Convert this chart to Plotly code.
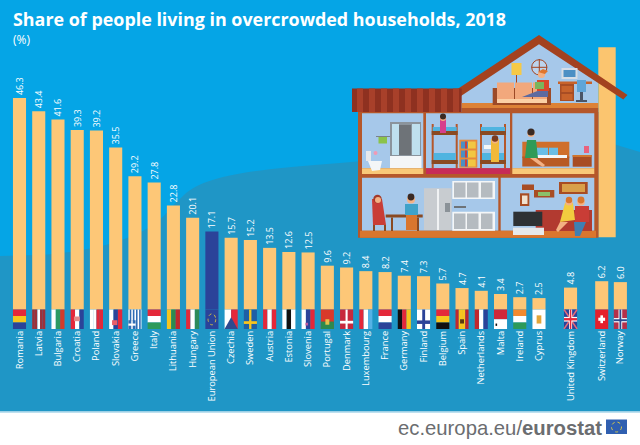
# Share of people living in overcrowded households, 2018 (eurostat infographic)
import plotly.graph_objects as go

W = 640
H = 445

countries = ["Romania", "Latvia", "Bulgaria", "Croatia", "Poland", "Slovakia", "Greece", "Italy",
             "Lithuania", "Hungary", "European Union", "Czechia", "Sweden", "Austria", "Estonia",
             "Slovenia", "Portugal", "Denmark", "Luxembourg", "France", "Germany", "Finland",
             "Belgium", "Spain", "Netherlands", "Malta", "Ireland", "Cyprus",
             "United Kingdom", "Switzerland", "Norway"]
values = [46.3, 43.4, 41.6, 39.3, 39.2, 35.5, 29.2, 27.8, 22.8, 20.1, 17.1, 15.7, 15.2, 13.5, 12.6,
          12.5, 9.6, 9.2, 8.4, 8.2, 7.4, 7.3, 5.7, 4.7, 4.1, 3.4, 2.7, 2.5, 4.8, 6.2, 6.0]

SKY = "#05a5e6"
HILL = "#1f96c6"
BAR = "#fdc777"
EU_BLUE = "#2b4399"

# slots on the axis, UK and Switzerland sit a bit apart from the rest
slots = []
pos = 0.0
for c in countries:
    if c == "United Kingdom":
        pos += 0.64
    if c == "Switzerland":
        pos += 0.62
    slots.append(pos)
    pos += 0.97 if c == "Switzerland" else 1

# pixel helpers for the drawing, everything else goes through the axes
def fx(x):
    return x / W

def fy(y):
    return 1 - y / H

shapes = []

def rect(x0, y0, x1, y1, color, layer="below"):
    shapes.append(dict(type="rect", xref="paper", yref="paper", x0=fx(x0), x1=fx(x1), y0=fy(y0), y1=fy(y1),
                       fillcolor=color, line_width=0, layer=layer))

def poly(pts, color, layer="below"):
    path = "M " + " L ".join(f"{fx(a):.5f} {fy(b):.5f}" for a, b in pts) + " Z"
    shapes.append(dict(type="path", xref="paper", yref="paper", path=path, fillcolor=color, line_width=0, layer=layer))

def dot(cx, cy, r, color, layer="below", line=None):
    shapes.append(dict(type="circle", xref="paper", yref="paper", x0=fx(cx - r), x1=fx(cx + r),
                       y0=fy(cy + r), y1=fy(cy - r), fillcolor=color,
                       line=dict(color=line or color, width=1 if line else 0), layer=layer))

# background
rect(0, 0, W, 412, SKY)
hill = ("M 0 256 L 40 255 C 80 252 120 245 150 227 C 165 218 172 205 182 197 C 200 178 240 170 340 163 "
        "L 600 140 L 640 152 L 640 412 L 0 412 Z")
toks = hill.split()
out = []
i = 0
while i < len(toks):
    if toks[i] in "MLCZ":
        out.append(toks[i])
        i += 1
    else:
        out.append(f"{fx(float(toks[i])):.5f} {fy(float(toks[i + 1])):.5f}")
        i += 2
shapes.append(dict(type="path", xref="paper", yref="paper", path=" ".join(out), fillcolor=HILL, line_width=0, layer="below"))
rect(0, 411.5, W, 445, "#ffffff")
rect(0, 411.5, W, 412.7, "#a9d6ea")

# house: shell
BROWN = "#b5572a"
ROOM = "#a6c8ea"
rect(598.3, 47.3, 615.7, 237.3, "#fbc56f")
rect(358, 112, 598.5, 237.7, BROWN)
poly([(461, 112), (461, 90), (539, 38), (598, 78), (598, 112)], ROOM)
poly([(456, 90), (539, 35), (627.5, 95), (623.3, 99.5), (539, 44.3), (461, 96)], "#a3421f")
rect(352, 88.5, 461.7, 112, "#8e3120")
for k in range(9):
    rect(357 + 12 * k, 88.5, 363 + 12 * k, 112, "#a8402a")
rect(461.7, 103, 598.3, 108, "#dd8236")
rect(461.7, 108, 598.3, 112, "#b5572a")

# rooms
rect(362, 113.3, 423.3, 168.3, ROOM)
rect(426, 113.3, 510, 168.3, ROOM)
rect(512.3, 113.3, 594.3, 168.3, ROOM)
rect(362, 168.3, 423.3, 174, "#f9c878")
rect(426, 168.3, 510, 174, "#c72b57")
rect(512.3, 168.3, 594.3, 174, "#f9c878")
rect(362, 177.7, 498.3, 230.7, ROOM)
rect(500.7, 177.7, 594.3, 230.7, ROOM)
rect(360, 230.7, 596, 237.7, "#d9762e")

# attic
dot(539.3, 67.3, 7.6, "#bcd4ee", line="#a3421f")
rect(538.8, 59, 539.8, 75.5, "#a3421f")
rect(531.5, 66.8, 547, 67.8, "#a3421f")
rect(511.5, 63, 521.5, 75, "#f6c945")
rect(516, 75, 517, 88, "#a3421f")
rect(492.7, 88, 551, 105, "#9c4a27")
rect(497, 82.5, 514, 99, "#f2a87c")
rect(515, 82.5, 532, 99, "#f2a87c")
rect(533, 82.5, 547, 99, "#f2a87c")
rect(497, 99, 547, 103, "#fbd0a5")
poly([(522, 97), (540, 90), (548, 90), (548, 97)], "#5d6a9f")
rect(537, 80, 549, 91, "#d9472b")
rect(535, 82, 544, 89, "#7ab55c")
dot(541.5, 74.5, 3.6, "#f4b183")
poly([(543, 69), (548, 71), (545, 74), (538, 72)], "#e0762c")
rect(561.5, 68, 577.5, 79, "#d7dde6")
rect(563.5, 70, 575.5, 77, "#4d8fc4")
rect(558, 81.5, 592, 84, "#c8632b")
rect(560, 84, 574, 101, "#a84d24")
rect(561.5, 86, 572.5, 92, "#c8632b")
rect(561.5, 94, 572.5, 100, "#c8632b")
rect(577, 80, 586, 92, "#5fa5d9")
rect(580, 92, 583, 100, "#4a5568")
rect(576, 100, 587, 102, "#4a5568")

# bathroom
rect(390, 122, 421, 156, "#8b949c")
rect(392, 124, 399, 155, "#bfe0ee")
rect(412, 124, 420, 155, "#bfe0ee")
rect(399, 125, 411, 155, "#6e7378")
rect(390, 156, 421.5, 168, "#f4f6f7")
rect(366, 151, 371, 161, "#e6e8ea")
poly([(368, 161), (382, 161), (380, 170), (372, 171)], "#f4f6f7")
rect(378.5, 136, 387, 143.5, "#8bc34a")
rect(376, 136, 390, 137, "#7a8288")
dot(375.5, 153, 2, "#ef9ab5")

# bunk room
for bx in (431.7, 480):
    rect(bx, 124, bx + 2, 168, BROWN)
    rect(bx + 24, 124, bx + 26, 168, BROWN)
    rect(bx, 131, bx + 26, 135, "#8a4a22")
    rect(bx + 1, 127, bx + 25, 131, "#4fb4e0")
    rect(bx, 160, bx + 26, 164, "#8a4a22")
    rect(bx + 2, 153, bx + 24, 160, "#4fb4e0")
rect(459.3, 139.7, 477.3, 167.7, "#e58a3c")
for sy in (141.5, 150.5, 159.5):
    rect(461, sy, 468, sy + 7, "#4c8ec2")
    rect(468, sy, 475.7, sy + 7, "#f2c742")
    rect(465, sy, 467, sy + 7, "#c94040")
rect(440, 118, 446, 133, "#d63f8c")
dot(443, 118, 3, "#f4b183")
dot(443, 116.5, 3, "#3a2a24")
rect(491, 139, 499, 162, "#f0b93a")
dot(495, 140, 3.4, "#f4b183")
dot(495, 138.5, 3.2, "#7a3a1c")
rect(484, 145, 491, 149, "#f4f6f7")

# bedroom
rect(522.3, 141.7, 569.3, 158, "#cf6f2c")
rect(522.3, 156.5, 569.3, 166.5, "#b85a24")
rect(530, 155, 567, 158, "#f4f6f7")
rect(537, 147.7, 548, 155, "#69bde6")
rect(549, 147.7, 558, 155, "#69bde6")
poly([(527, 140), (536, 140), (538, 158), (525, 158)], "#2f9b58")
dot(531, 133.5, 3.6, "#f4b183")
dot(531, 132, 3.6, "#3a2a24")
poly([(530, 158), (536, 158), (545, 165), (543, 167), (538, 164)], "#f4b183")
rect(572.7, 155, 591.7, 166.7, "#a84d24")
rect(572.7, 155, 591.7, 157, "#d0752e")
rect(584, 146, 589, 153, "#e9627d")

# kitchen
rect(424, 188.3, 451.7, 230, "#c8ccd0")
rect(437, 189, 439, 230, "#f0f2f3")
rect(445, 203, 450, 212, "#8b9298")
rect(452.3, 181, 495, 199, "#f4f6f7")
for cx in (454, 467, 481):
    rect(cx, 182.5, cx + 11.5, 197.5, "#b5bbc0")
rect(452.3, 211.7, 495, 230.7, "#f4f6f7")
for cx in (454, 467, 481):
    rect(cx, 213.5, cx + 11.5, 229, "#b5bbc0")
rect(454, 206, 466, 208, "#6e7378")
poly([(372, 199), (382, 199), (386, 225), (373, 225)], "#c93d36")
dot(377.5, 199, 4.2, "#a33a2a")
dot(378, 200, 3, "#f4b183")
rect(373, 225, 375, 231, "#8a4a22")
rect(384, 225, 386, 231, "#8a4a22")
rect(385.7, 214.5, 422.7, 217.5, "#8a4a22")
rect(391, 217.5, 393, 231, "#8a4a22")
rect(417, 217.5, 419, 231, "#8a4a22")
rect(405, 204, 418, 215, "#3fa2c9")
rect(406, 215, 417, 230, "#d9762e")
dot(411, 199.5, 4, "#f4b183")
dot(411, 197, 3.4, "#3a2a24")

# living room
rect(522, 184.5, 534, 190, "#a84d24")
rect(534, 190, 554.3, 197.5, "#a84d24")
rect(559, 182, 587.7, 194, "#a84d24")
rect(562, 184, 585, 192, "#d9a04a")
rect(538, 192, 550, 196, "#8bbf6a")
rect(520, 193.3, 529.3, 206, "#a84d24")
rect(522, 195.5, 527.5, 204, "#f1e2d0")
rect(535.7, 210, 592, 231, "#b23a30")
rect(513.3, 211.7, 542.3, 226, "#2e3134")
rect(513, 227.7, 544, 235, "#e6e8ea")
poly([(565, 203), (573, 203), (575, 220), (560, 222)], "#f2cc3f")
rect(575, 206, 589, 222, "#c93d36")
poly([(574, 222), (586, 222), (580, 236), (575, 236)], "#3f7fb3")
poly([(560, 222), (568, 222), (558, 232), (556, 230)], "#f4b183")
dot(569, 202, 3.6, "#f4b183")
dot(569, 200, 3.2, "#d9762e")
dot(581, 202, 3.8, "#f4b183")
dot(581, 200, 3.4, "#d9762e")

# flags hang below the zero line, stripes are drawn in axis units
FLAG_TOP = 0.0
FLAG_BOT = -4.27
HALF = 0.34

def frect(x, a0, a1, b0, b1, color):
    # a along the bar width 0..1, b from flag top 0 to bottom 1
    span = FLAG_TOP - FLAG_BOT
    shapes.append(dict(type="rect", xref="x", yref="y", x0=x - HALF + 2 * HALF * a0, x1=x - HALF + 2 * HALF * a1,
                       y0=FLAG_TOP - span * b0, y1=FLAG_TOP - span * b1, fillcolor=color, line_width=0, layer="above"))

R, W_, B = "#e4283a", "#ffffff", "#2b4399"
Y, G, K = "#f7c51e", "#1f9a5a", "#111111"
vstripes = {"Latvia": ["#9e3039", "#9e3039", W_, "#9e3039", "#9e3039"], "Bulgaria": [W_, "#2d9a63", "#d23b2a"],
            "Croatia": [R, W_, B], "Poland": [W_, W_, R, R], "Slovakia": [W_, B, R],
            "Lithuania": [Y, "#2d8a4e", "#c1272d"], "Hungary": [R, W_, "#2d8a5a"], "Austria": [R, W_, R],
            "Estonia": ["#ffffff", K, W_], "Slovenia": [W_, B, R], "Luxembourg": [R, W_, "#55b2e6"],
            "Germany": [K, R, Y], "Spain": ["#c1272d", Y, Y, "#c1272d"], "Netherlands": ["#c1272d", W_, B]}
hstripes = {"Romania": [R, Y, B], "Italy": [R, W_, "#2d9a5a"], "France": [R, W_, B],
            "Belgium": [R, Y, K], "Ireland": ["#f58a2e", W_, "#2d9a5a"]}

for c, x in zip(countries, slots):
    if c in vstripes:
        cols = vstripes[c]
        for n, col in enumerate(cols):
            frect(x, n / len(cols), (n + 1) / len(cols), 0, 1, col)
    elif c in hstripes:
        cols = hstripes[c]
        for n, col in enumerate(cols):
            frect(x, 0, 1, n / 3, (n + 1) / 3, col)
    elif c == "Greece":
        frect(x, 0, 1, 0, 1, W_)
        for n in range(4):
            frect(x, 0.1 + n * 0.24, 0.22 + n * 0.24, 0, 1, "#2f6db5")
        frect(x, 0, 0.55, 0.55, 1, "#2f6db5")
        frect(x, 0, 0.55, 0.72, 0.83, W_)
        frect(x, 0.22, 0.33, 0.55, 1, W_)
    elif c == "European Union":
        frect(x, 0, 1, 0, 1, EU_BLUE)
        shapes.append(dict(type="circle", xref="x", yref="y", x0=x - 0.2, x1=x + 0.2, y0=-3.35, y1=-0.95,
                           line=dict(color="#c9b94a", width=1, dash="dot"), layer="above"))
    elif c == "Czechia":
        frect(x, 0, 0.5, 0, 1, W_)
        frect(x, 0.5, 1, 0, 1, R)
        shapes.append(dict(type="path", xref="x", yref="y", layer="above", fillcolor="#2f4a8f", line_width=0,
                           path=f"M {x - HALF} {FLAG_BOT} L {x} -1.7 L {x + HALF} {FLAG_BOT} Z"))
    elif c == "Sweden":
        frect(x, 0, 1, 0, 1, "#1f5fa5")
        frect(x, 0.4, 0.58, 0, 1, Y)
        frect(x, 0, 1, 0.6, 0.74, Y)
    elif c == "Portugal":
        frect(x, 0, 1, 0, 1, "#d9392b")
        frect(x, 0, 1, 0.62, 1, "#2d8a4e")
        frect(x, 0.35, 0.65, 0.5, 0.78, "#e8c04a")
    elif c == "Denmark":
        frect(x, 0, 1, 0, 1, "#c8283c")
        frect(x, 0.42, 0.58, 0, 1, W_)
        frect(x, 0, 1, 0.58, 0.72, W_)
    elif c == "Finland":
        frect(x, 0, 1, 0, 1, W_)
        frect(x, 0.4, 0.62, 0, 1, "#2b4399")
        frect(x, 0, 1, 0.56, 0.74, "#2b4399")
    elif c == "Malta":
        frect(x, 0, 1, 0, 0.5, "#d0283a")
        frect(x, 0, 1, 0.5, 1, W_)
        frect(x, 0.12, 0.24, 0.72, 0.84, K)
    elif c == "Cyprus":
        frect(x, 0, 1, 0, 1, W_)
        frect(x, 0.32, 0.68, 0.3, 0.72, "#e0a53a")
    elif c == "United Kingdom":
        frect(x, 0, 1, 0, 1, "#2b4399")
        for x0, x1 in ((x - HALF, x + HALF), (x + HALF, x - HALF)):
            shapes.append(dict(type="line", xref="x", yref="y", x0=x0, x1=x1, y0=FLAG_TOP, y1=FLAG_BOT,
                               line=dict(color="#e86a78", width=1.5), layer="above"))
        frect(x, 0.38, 0.62, 0, 1, W_)
        frect(x, 0, 1, 0.38, 0.62, W_)
        frect(x, 0.44, 0.56, 0, 1, R)
        frect(x, 0, 1, 0.44, 0.56, R)
    elif c == "Switzerland":
        frect(x, 0, 1, 0, 1, "#e4202c")
        frect(x, 0.4, 0.6, 0.3, 0.7, W_)
        frect(x, 0.24, 0.76, 0.42, 0.58, W_)
    elif c == "Norway":
        frect(x, 0, 1, 0, 1, "#b5304a")
        frect(x, 0.36, 0.64, 0, 1, W_)
        frect(x, 0, 1, 0.44, 0.66, W_)
        frect(x, 0.43, 0.57, 0, 1, "#2f4a8f")
        frect(x, 0, 1, 0.5, 0.6, "#2f4a8f")

# small emblems
sx = dict(zip(countries, slots))
frect(sx["Croatia"], 0.25, 0.7, 0.36, 0.6, "#e58a8a")
frect(sx["Slovakia"], 0.22, 0.62, 0.55, 0.8, "#e8606a")
frect(sx["Slovenia"], 0.3, 0.5, 0.68, 0.82, "#c05a9a")
frect(sx["Spain"], 0.35, 0.65, 0.5, 0.72, "#5a3a12")

# EU flag in the footer
rect(606, 419.5, 627, 434, "#2f5fb0", layer="above")
shapes.append(dict(type="circle", xref="paper", yref="paper", x0=fx(611.5), x1=fx(621.5), y0=fy(432), y1=fy(422),
                   line=dict(color="#d8c94a", width=1, dash="dot"), layer="above"))

fig = go.Figure()
fig.add_bar(x=slots, y=values, width=0.68,
            marker=dict(color=[EU_BLUE if c == "European Union" else BAR for c in countries], line_width=0),
            text=[f"{v:.1f}" for v in values], textposition="outside", textangle=-90, cliponaxis=False,
            constraintext="none",
            textfont=dict(family="Open Sans", size=9, color="white"))

y_top = 54.65
fig.update_layout(
    width=W, height=H, margin=dict(l=0, r=0, t=0, b=0), autosize=False,
    paper_bgcolor=SKY, plot_bgcolor="rgba(0,0,0,0)", showlegend=False, shapes=shapes,
    xaxis=dict(range=[-1.0135, 32.25], domain=[0, 1], tickmode="array", tickvals=slots, ticktext=countries,
               tickangle=-90, showgrid=False, zeroline=False, showline=False, ticks="", ticklabelstandoff=-1,
               tickfont=dict(family="Open Sans", size=9.3, color="white")),
    yaxis=dict(range=[FLAG_BOT, y_top], domain=[fy(329), fy(60)], visible=False),
    annotations=[
        dict(xref="paper", yref="paper", x=fx(10.5), y=fy(19), text="<b>Share of people living in overcrowded households, 2018</b>",
             showarrow=False, xanchor="left", yanchor="middle", font=dict(family="Open Sans", size=17.9, color="white")),
        dict(xref="paper", yref="paper", x=fx(10.5), y=fy(39.5), text="(%)", showarrow=False, xanchor="left",
             yanchor="middle", font=dict(family="Open Sans", size=12, color="white")),
        dict(xref="paper", yref="paper", x=fx(603.5), y=fy(428), text="ec.europa.eu/<b>eurostat</b>", showarrow=False,
             xanchor="right", yanchor="middle", font=dict(family="Liberation Sans", size=20.3, color="#6b6d70")),
    ],
)

fig.write_html("out.html", config=dict(displayModeBar=False), post_script="document.body.style.margin='0'")
